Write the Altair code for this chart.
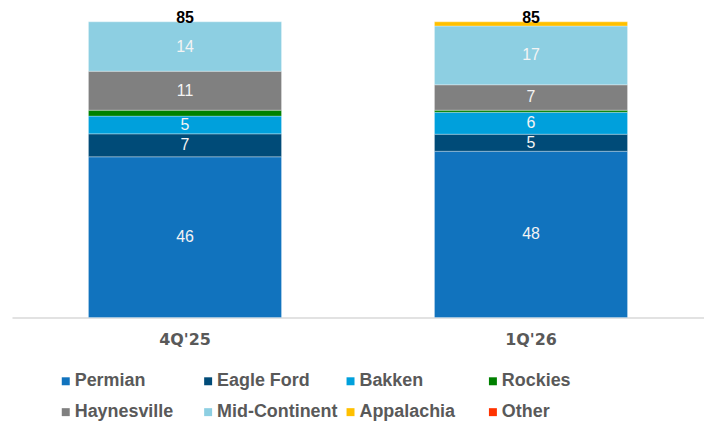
import altair as alt
import pandas as pd

quarters = ["4Q'25", "1Q'26"]
regions = ["Permian", "Eagle Ford", "Bakken", "Rockies", "Haynesville",
           "Mid-Continent", "Appalachia", "Other"]
colors = ["#1173BE", "#004B78", "#00A0DC", "#008000", "#808080",
          "#8DCFE2", "#FFC000", "#FF3300"]
values_4q25 = [46.2, 6.6, 5.1, 1.7, 11.2, 14.2, 0.0, 0.0]
values_1q26 = [47.8, 4.9, 6.3, 0.6, 7.3, 16.9, 1.2, 0.0]
totals = [85, 85]

rows = []
for q, vals in zip(quarters, [values_4q25, values_1q26]):
    for i, (r, v) in enumerate(zip(regions, vals)):
        rows.append({"quarter": q, "region": r, "value": v, "idx": i})
df = pd.DataFrame(rows)
tot_df = pd.DataFrame({"quarter": quarters, "total": totals})

yscale = alt.Scale(domain=[0, 85], nice=False, zero=True)
xenc = alt.X(
    "quarter:N", sort=quarters,
    scale=alt.Scale(paddingInner=0.442, paddingOuter=0.221),
    axis=alt.Axis(title=None, labelAngle=0, ticks=False, grid=False,
                  domainColor="#d9d9d9", domainWidth=1.5,
                  labelFont="DejaVu Sans", labelFontWeight="bold",
                  labelFontSize=16, labelColor="#595959", labelPadding=14),
)

bars = alt.Chart(df).transform_filter("datum.value > 0").mark_bar(
    stroke="white", strokeWidth=0.6, strokeOpacity=0.5
).encode(
    x=xenc,
    y=alt.Y("value:Q", stack="zero", scale=yscale, axis=None),
    color=alt.Color(
        "region:N", sort=regions,
        scale=alt.Scale(domain=regions, range=colors),
        legend=alt.Legend(
            title=None, orient="none", direction="horizontal",
            legendX=45, legendY=352, columns=4,
            symbolType="square", symbolSize=64, symbolStrokeWidth=0,
            labelFont="Liberation Sans", labelFontWeight="bold",
            labelFontSize=18, labelColor="#595959", labelOffset=0,
            columnPadding=4, rowPadding=13, gridAlign="all", padding=0,
            labelLimit=250,
        ),
    ),
    order=alt.Order("idx:Q", sort="ascending"),
)

labels = alt.Chart(df).transform_stack(
    stack="value", groupby=["quarter"],
    sort=[alt.SortField("idx", "ascending")], as_=["y0", "y1"]
).transform_calculate(
    mid="(datum.y0 + datum.y1) / 2", lab="format(datum.value, '.0f')"
).transform_filter("datum.value >= 3").mark_text(
    color="#f4f4f4", fontSize=16, font="Liberation Sans"
).encode(
    x=alt.X("quarter:N", sort=quarters),
    y=alt.Y("mid:Q", scale=yscale),
    text="lab:N",
)

tot = alt.Chart(tot_df).mark_text(
    fontWeight="bold", fontSize=16, color="black", font="Liberation Sans",
    baseline="alphabetic", dy=1
).encode(
    x=alt.X("quarter:N", sort=quarters),
    y=alt.Y("total:Q", scale=yscale),
    text="total:Q",
)

chart = alt.layer(bars, labels, tot).properties(
    width=695, height=297,
    padding={"left": 4, "top": 13, "right": 0, "bottom": 104},
    autosize=alt.AutoSizeParams(type="none"),
).configure_view(stroke=None)

chart.save("out.html", embed_options={"renderer": "svg", "actions": False})
